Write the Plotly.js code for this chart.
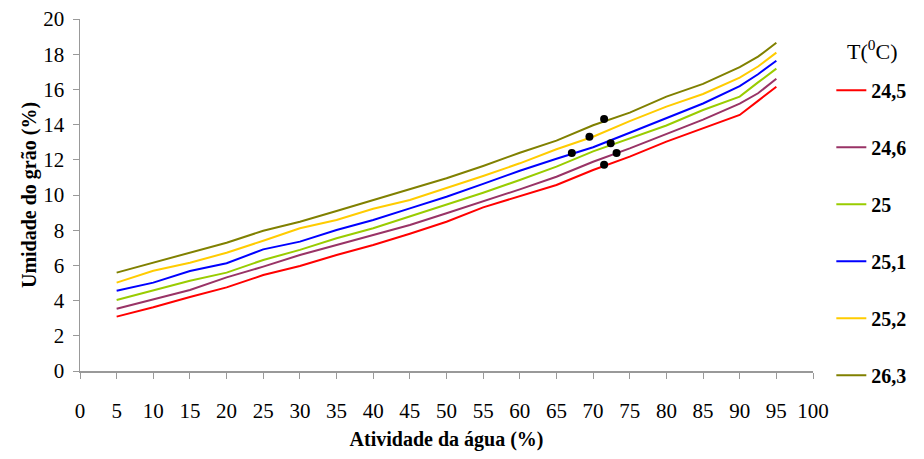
<!DOCTYPE html>
<html>
<head>
<meta charset="utf-8">
<script src="https://cdn.plot.ly/plotly-3.0.1.min.js"></script>
<style>html,body{margin:0;padding:0;background:#fff;}#chart{width:924px;height:459px;}</style>
</head>
<body>
<div id="chart"></div>
<script>
const aw = [5,10,15,20,25,30,35,40,45,50,55,60,65,70,75,80,85,90,92.5,95];
const s245 = [3.09,3.62,4.20,4.75,5.45,5.97,6.59,7.16,7.80,8.48,9.30,9.93,10.57,11.42,12.18,13.03,13.80,14.55,15.35,16.15];
const s246 = [3.54,4.07,4.60,5.32,5.93,6.59,7.16,7.73,8.30,8.96,9.62,10.32,11.04,11.89,12.65,13.47,14.28,15.19,15.78,16.61];
const s250 = [4.03,4.60,5.13,5.59,6.31,6.88,7.54,8.11,8.77,9.43,10.13,10.85,11.61,12.48,13.22,13.95,14.83,15.59,16.40,17.18];
const s251 = [4.56,5.02,5.68,6.12,6.91,7.35,8.01,8.58,9.24,9.90,10.63,11.38,12.06,12.71,13.54,14.38,15.20,16.19,16.86,17.63];
const s252 = [5.02,5.70,6.15,6.72,7.40,8.11,8.58,9.22,9.72,10.38,11.08,11.80,12.60,13.31,14.20,15.02,15.74,16.67,17.30,18.09];
const s263 = [5.59,6.15,6.72,7.29,7.97,8.48,9.09,9.72,10.32,10.95,11.65,12.40,13.09,13.96,14.68,15.59,16.31,17.26,17.86,18.65];
const seriesNames = ['24,5','24,6','25','25,1','25,2','26,3'];
const seriesColors = ['#FF0000','#993366','#99CC00','#0000FF','#FFCC00','#808000'];
const ptX = [71.5, 69.5, 67.1, 72.4, 73.2, 71.5];
const ptY = [14.32, 13.31, 12.39, 12.94, 12.39, 11.72];
const xTicks = [0,5,10,15,20,25,30,35,40,45,50,55,60,65,70,75,80,85,90,95,100];
const legendTitle = 'T(<sup>0</sup>C)';

const FF = 'Liberation Serif, Times New Roman, DejaVu Serif, serif';
const allS = [s245,s246,s250,s251,s252,s263];
const traces = allS.map((s,i)=>({
  x: aw, y: s, type:'scatter', mode:'lines', name: '<b>' + seriesNames[i] + '</b>',
  legendgroup: 'g'+i,
  line:{color: seriesColors[i], width: 2}
}));
traces.push({x: ptX, y: ptY, type:'scatter', mode:'markers', showlegend:false,
  marker:{color:'#000', size:8}});

const layout = {
  width: 924, height: 459,
  margin:{l:80, r:111, t:19, b:88},
  paper_bgcolor:'#fff', plot_bgcolor:'#fff',
  font:{family: FF, color:'#000'},
  showlegend: true,
  legend:{x:1.025, xanchor:'left', y:0.853, yanchor:'top',
    font:{size:20, family: FF, color:'#000'},
    itemwidth: 30,
    tracegroupgap: 28, bgcolor:'rgba(0,0,0,0)'},
  annotations:[{text: legendTitle, xref:'paper', yref:'paper', x:1.08, y:0.912,
    xanchor:'center', yanchor:'middle', showarrow:false,
    font:{size:22, family: FF, color:'#000'}}],
  xaxis:{range:[0,100], tickvals: xTicks,
    showgrid:false, zeroline:false, showline:true, linecolor:'#999', linewidth:1.5,
    ticks:'outside', ticklen:6, tickcolor:'#999', ticklabelstandoff: 14,
    tickfont:{size:21, family: FF, color:'#000'},
    title:{text:'<b>Atividade da água (%)</b>', font:{size:20, family: FF, color:'#000'}, standoff: 10}},
  yaxis:{range:[0,20], dtick:2, tick0:0,
    showgrid:false, zeroline:false, showline:true, linecolor:'#999', linewidth:1.5,
    ticks:'outside', ticklen:6, tickcolor:'#999', ticklabelstandoff: 4,
    tickfont:{size:21, family: FF, color:'#000'},
    title:{text:'<b>Umidade do grão (%)</b>', font:{size:20, family: FF, color:'#000'}, standoff: 1}}
};
Plotly.newPlot('chart', traces, layout, {displayModeBar:false, staticPlot:true});
</script>
</body>
</html>
